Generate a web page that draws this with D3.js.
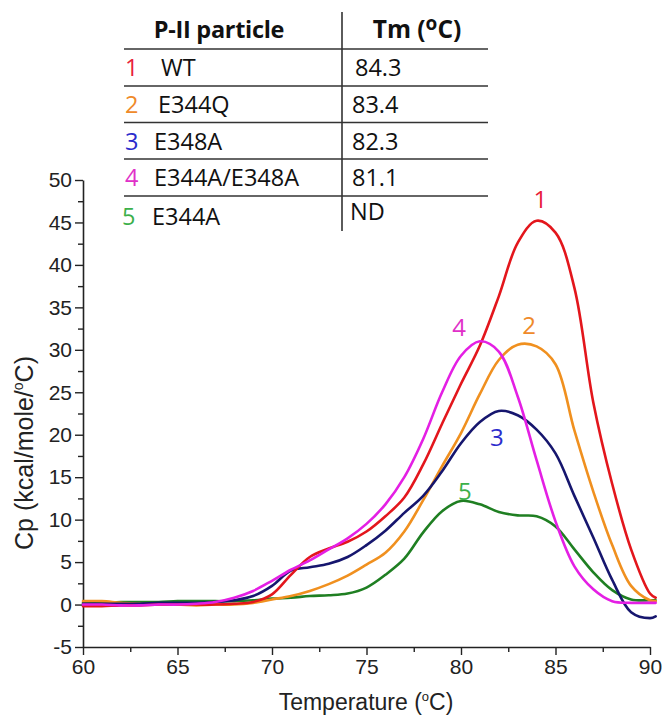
<!DOCTYPE html>
<html>
<head>
<meta charset="utf-8">
<script src="https://cdn.jsdelivr.net/npm/d3@7"></script>
<style>
  html, body { margin: 0; padding: 0; background: #fff; }
  svg { display: block; }
</style>
</head>
<body>
<svg id="chart" width="664" height="716"></svg>
<script>
// ---------- data ----------
const temperature = [60,61,62,63,64,65,66,67,68,69,70,71,72,73,74,75,76,77,78,79,80,81,82,83,84,85,86,87,88,89,90,90.3];
const cpWT        = [-0.2,-0.2,-0.1,-0.1,0,0,0,0,0.1,0.3,1.2,3.5,5.6,6.6,7.4,8.6,10.4,12.6,16.5,21.3,26.0,30.5,36.3,42.6,45.2,43.8,37.3,23.8,14.2,6.5,1.3,0.8];
const cpE344Q     = [0.4,0.4,0.2,0.1,0,0,-0.1,0,0,0.2,0.6,1.0,1.6,2.4,3.4,4.7,6.1,8.6,12.3,16.3,20.2,24.8,28.8,30.6,30.4,28.3,20.5,13.3,7.0,2.2,0.5,0.4];
const cpE348A     = [0.1,0.1,0.1,0.1,0.2,0.2,0.2,0.3,0.5,1.0,2.2,4.0,4.4,4.8,5.6,7.0,8.7,10.8,12.8,15.7,19.0,21.5,22.8,22.3,20.6,17.8,12.8,7.9,2.9,-0.9,-1.6,-1.4];
const cpDouble    = [0,0,-0.1,-0.1,0,0,0.1,0.3,0.8,1.6,2.8,4.1,5.2,6.5,7.8,9.5,11.8,15.0,19.5,25.0,29.3,31.0,29.8,24.5,17.0,9.8,4.5,1.8,0.4,0.2,0.2,0.2];
const cpE344A     = [0.2,0.2,0.3,0.3,0.3,0.4,0.4,0.4,0.4,0.5,0.7,0.8,1.0,1.1,1.3,2.0,3.5,5.4,8.5,11.0,12.2,11.8,10.9,10.5,10.4,9.2,6.5,3.8,1.7,0.6,0.5,0.5];

const seriesIds    = ["1","2","3","4","5"];
const seriesNames  = ["WT","E344Q","E348A","E344A/E348A","E344A"];
const tmValues     = ["84.3","83.4","82.3","81.1","ND"];
const lineColors   = ["#e3161c","#f0901f","#16166e","#e41fe4","#1f7f22"];
const labelColors  = ["#e8203a","#ef8a2a","#2c2ccc","#e030c8","#3cb04a"];
// peak label anchor (temperature, Cp)
const labelT = [84.2, 83.6, 81.9, 79.9, 80.2];
const labelV = [47.8, 33.0, 19.8, 32.7, 13.4];

const xTicks = [60,65,70,75,80,85,90];
const yTicks = [-5,0,5,10,15,20,25,30,35,40,45,50];

// ---------- drawing ----------
const svg = d3.select("#chart");
const x = d3.scaleLinear().domain([60,90]).range([83,650]);
const y = d3.scaleLinear().domain([-5,50]).range([647,180]);

const axisFont = "'Liberation Sans', Arial, sans-serif";
const tableFont = "'Open Sans', 'Noto Sans', sans-serif";
const fmt = d => String(d);

// minor ticks
const xMinor = d3.range(60, 90.01, 2.5).filter(v => v % 5 !== 0);
const yMinor = d3.range(-5, 50.01, 2.5).filter(v => v % 5 !== 0);

svg.append("g").attr("transform", `translate(0,${y(-5)})`)
  .call(d3.axisBottom(x).tickValues(xTicks).tickFormat(fmt).tickSize(8).tickPadding(4).tickSizeOuter(0));
svg.append("g").attr("transform", `translate(0,${y(-5)})`)
  .call(d3.axisBottom(x).tickValues(xMinor).tickSize(5).tickFormat("").tickSizeOuter(0))
  .select(".domain").remove();
svg.append("g").attr("transform", `translate(${x(60)},0)`)
  .call(d3.axisLeft(y).tickValues(yTicks).tickFormat(fmt).tickSize(8).tickPadding(3).tickSizeOuter(0));
svg.append("g").attr("transform", `translate(${x(60)},0)`)
  .call(d3.axisLeft(y).tickValues(yMinor).tickSize(5).tickFormat("").tickSizeOuter(0))
  .select(".domain").remove();

svg.selectAll(".domain").attr("stroke", "#222").attr("stroke-width", 1.6);
svg.selectAll(".tick line").attr("stroke", "#222").attr("stroke-width", 1.4);
svg.selectAll(".tick text").attr("font-family", axisFont).attr("font-size", 21).attr("fill", "#222");

// axis titles
const xt = svg.append("text").attr("x", 366).attr("y", 710).attr("text-anchor", "middle")
  .attr("font-family", axisFont).attr("font-size", 23).attr("fill", "#222");
xt.append("tspan").text("Temperature (");
xt.append("tspan").attr("font-size", 13).attr("dy", -9).text("o");
xt.append("tspan").attr("dy", 9).text("C)");

const yt = svg.append("text").attr("transform", "translate(33,453) rotate(-90)").attr("text-anchor", "middle")
  .attr("font-family", axisFont).attr("font-size", 25).attr("fill", "#222");
yt.append("tspan").text("Cp (kcal/mole/");
yt.append("tspan").attr("font-size", 14).attr("dy", -10).text("o");
yt.append("tspan").attr("dy", 10).text("C)");

// curves
const allSeries = [cpWT, cpE344Q, cpE348A, cpDouble, cpE344A];
const line = d3.line().x((d,i) => x(temperature[i])).y(d => y(d)).curve(d3.curveCatmullRom.alpha(0.5));
const drawOrder = [4, 1, 2, 0, 3];
drawOrder.forEach(i => {
  svg.append("path").datum(allSeries[i]).attr("d", line)
    .attr("fill", "none").attr("stroke", lineColors[i]).attr("stroke-width", 2.6)
    .attr("stroke-linejoin", "round").attr("stroke-linecap", "round");
});

// peak labels
seriesIds.forEach((id, i) => {
  svg.append("text").attr("x", x(labelT[i])).attr("y", y(labelV[i]))
    .attr("text-anchor", "middle").attr("dominant-baseline", "central")
    .attr("font-family", tableFont).attr("font-size", 24).attr("fill", labelColors[i]).text(id);
});

// ---------- table ----------
const rowLines = [49, 86, 122.5, 159, 196];
rowLines.forEach(ly => {
  svg.append("line").attr("x1", 124).attr("x2", 488).attr("y1", ly).attr("y2", ly)
    .attr("stroke", "#333").attr("stroke-width", 1.6);
});
svg.append("line").attr("x1", 342).attr("x2", 342).attr("y1", 12).attr("y2", 231)
  .attr("stroke", "#333").attr("stroke-width", 1.6);

svg.append("text").attr("x", 219).attr("y", 38).attr("text-anchor", "middle")
  .attr("font-family", tableFont).attr("font-weight", "bold").attr("font-size", 23.5).attr("fill", "#111")
  .attr("letter-spacing", -0.3).text("P-II particle");
const th = svg.append("text").attr("x", 417).attr("y", 38).attr("text-anchor", "middle")
  .attr("font-family", tableFont).attr("font-weight", "bold").attr("font-size", 24.5).attr("fill", "#111");
th.append("tspan").text("Tm (");
th.append("tspan").attr("font-size", 19).attr("dy", -8).text("o");
th.append("tspan").attr("dy", 8).text("C)");

const rowY = [76, 113, 150, 186, 225];
const idX = [125, 125, 125, 125, 122];
const nameX = [161, 158, 154, 154, 152];
const tmX = [355, 352, 352, 352, 350];
const tmY = [76, 113, 150, 186, 220];
seriesIds.forEach((id, i) => {
  svg.append("text").attr("x", idX[i]).attr("y", rowY[i])
    .attr("font-family", tableFont).attr("font-size", 23.5).attr("fill", labelColors[i]).text(id);
  svg.append("text").attr("x", nameX[i]).attr("y", rowY[i])
    .attr("font-family", tableFont).attr("font-size", 23.5).attr("fill", "#111").text(seriesNames[i]);
  svg.append("text").attr("x", tmX[i]).attr("y", tmY[i])
    .attr("font-family", tableFont).attr("font-size", 23.5).attr("fill", "#111").text(tmValues[i]);
});
</script>
</body>
</html>
